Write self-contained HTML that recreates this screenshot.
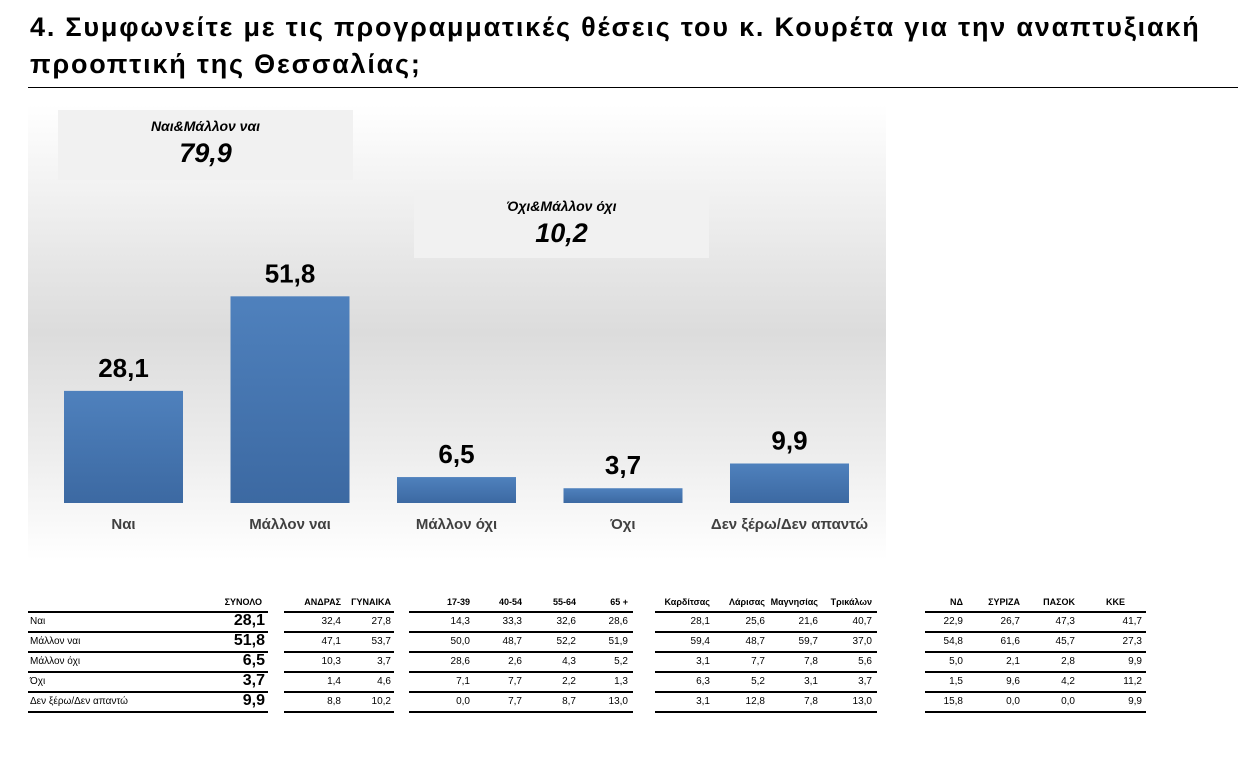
<!DOCTYPE html>
<html><head><meta charset="utf-8">
<style>
body{margin:0;width:1245px;height:762px;background:#fff;font-family:"Liberation Sans","DejaVu Sans",sans-serif;position:relative;overflow:hidden}
.title{position:absolute;left:30px;top:9px;font-size:27px;font-weight:bold;line-height:37px;color:#000;letter-spacing:1.8px;white-space:nowrap}
.rule{position:absolute;left:28px;top:87px;width:1210px;height:1px;background:#000}
.chartbg{position:absolute;left:28px;top:105px;width:858px;height:455px;background:linear-gradient(#fff 0%,#e6e6e6 35%,#dcdcdc 50%,#ececec 75%,#fff 100%)}
.box{position:absolute;background:#f1f1f1;text-align:center;font-style:italic;font-weight:bold;color:#000}
.box .l{font-size:14px;margin-top:8px}
.box .v{font-size:27px;margin-top:4px}
.cell{position:absolute;font-size:10px;color:#000;white-space:nowrap}
.hline{position:absolute;height:2px;background:#000}
</style></head><body>
<div class="title">4. Συμφωνείτε με τις προγραμματικές θέσεις του κ. Κουρέτα για την αναπτυξιακή<br>προοπτική της Θεσσαλίας;</div>
<div class="rule"></div>
<div class="chartbg"></div>
<div class="box" style="left:58px;top:110px;width:295px;height:70px"><div class="l">Ναι&amp;Μάλλον ναι</div><div class="v">79,9</div></div>
<div class="box" style="left:414px;top:190px;width:295px;height:68px"><div class="l">Όχι&amp;Μάλλον όχι</div><div class="v">10,2</div></div>
<svg id="chart" width="1245" height="762" style="position:absolute;left:0;top:0">
<defs><linearGradient id="bg" x1="0" y1="0" x2="0" y2="1"><stop offset="0" stop-color="#4f81bd"/><stop offset="1" stop-color="#3c69a2"/></linearGradient></defs>
</svg>
<div id="table"></div>
<script>
const categories=["Ναι","Μάλλον ναι","Μάλλον όχι","Όχι","Δεν ξέρω/Δεν απαντώ"];
const values=[28.1,51.8,6.5,3.7,9.9];
const valueLabels=["28,1","51,8","6,5","3,7","9,9"];
const NS="http://www.w3.org/2000/svg";
const svg=document.getElementById('chart');
const baseY=503, pxPerUnit=3.99, x0=123.5, step=166.5, bw=119;
function xScale(i){return x0+i*step;}
function yScale(v){return baseY-v*pxPerUnit;}
categories.forEach((c,i)=>{
  const cx=xScale(i), top=yScale(values[i]);
  const r=document.createElementNS(NS,'rect');
  r.setAttribute('x',cx-bw/2);r.setAttribute('y',top);r.setAttribute('width',bw);r.setAttribute('height',baseY-top);r.setAttribute('fill','url(#bg)');
  
  
  svg.appendChild(r);
  const t=document.createElementNS(NS,'text');
  t.setAttribute('x',cx);t.setAttribute('y',top-14);t.setAttribute('text-anchor','middle');t.setAttribute('font-size','26');t.setAttribute('font-weight','bold');t.setAttribute('fill','#000');
  t.textContent=valueLabels[i];
  
  
  svg.appendChild(t);
  const l=document.createElementNS(NS,'text');
  l.setAttribute('x',cx);l.setAttribute('y',529);l.setAttribute('text-anchor','middle');l.setAttribute('font-size','15');l.setAttribute('font-weight','bold');l.setAttribute('fill','#404040');
  l.textContent=c;
  
  
  svg.appendChild(l);
});
const rowLabels=["Ναι","Μάλλον ναι","Μάλλον όχι","Όχι","Δεν ξέρω/Δεν απαντώ"];
const totalCol=["28,1","51,8","6,5","3,7","9,9"];
const headers=["ΑΝΔΡΑΣ","ΓΥΝΑΙΚΑ","17-39","40-54","55-64","65 +","Καρδίτσας","Λάρισας","Μαγνησίας","Τρικάλων","ΝΔ","ΣΥΡΙΖΑ","ΠΑΣΟΚ","ΚΚΕ"];
const tableData=[
["32,4","27,8","14,3","33,3","32,6","28,6","28,1","25,6","21,6","40,7","22,9","26,7","47,3","41,7"],
["47,1","53,7","50,0","48,7","52,2","51,9","59,4","48,7","59,7","37,0","54,8","61,6","45,7","27,3"],
["10,3","3,7","28,6","2,6","4,3","5,2","3,1","7,7","7,8","5,6","5,0","2,1","2,8","9,9"],
["1,4","4,6","7,1","7,7","2,2","1,3","6,3","5,2","3,1","3,7","1,5","9,6","4,2","11,2"],
["8,8","10,2","0,0","7,7","8,7","13,0","3,1","12,8","7,8","13,0","15,8","0,0","0,0","9,9"]];
const colRight=[341,391,470,522,576,628,710,765,818,872,963,1020,1075,1142];
const hdrRight=[341,391,470,522,576,628,710,765,818,872,963,1020,1075,1125];
const tb=document.getElementById('table');
function cell(txt,right,top,extra,name){
  const d=document.createElement('div');d.className='cell';d.textContent=txt;
  d.style.right=(1245-right)+'px';d.style.top=top+'px';
  if(extra)d.style.cssText+=extra;
  
  
  tb.appendChild(d);
}
cell("ΣΥΝΟΛΟ",262,597,"font-weight:bold;font-size:9px;","header-total");
headers.forEach((h,j)=>cell(h,hdrRight[j],597,"font-weight:bold;font-size:9px;","header-"+j));
const rowTop=[616,636,656,676,696];
rowLabels.forEach((r,i)=>{
  const d=document.createElement('div');d.className='cell';d.textContent=r;d.style.left='30px';d.style.top=rowTop[i]+'px';
  
  
  tb.appendChild(d);
  cell(totalCol[i],265,rowTop[i]-4,"font-size:16px;font-weight:bold;","total-"+i);
  tableData[i].forEach((v,j)=>cell(v,colRight[j],rowTop[i],"","cell-"+i+"-"+j));
});
const groups=[[28,268],[284,394],[409,633],[655,877],[925,1146]];
const lineYs=[611,631,651,671,691,711];
groups.forEach((g,gi)=>lineYs.forEach((y,k)=>{
  const d=document.createElement('div');d.className='hline';
  d.style.left=g[0]+'px';d.style.width=(g[1]-g[0])+'px';d.style.top=y+'px';
  
  
  tb.appendChild(d);
}));
</script>
</body></html>
